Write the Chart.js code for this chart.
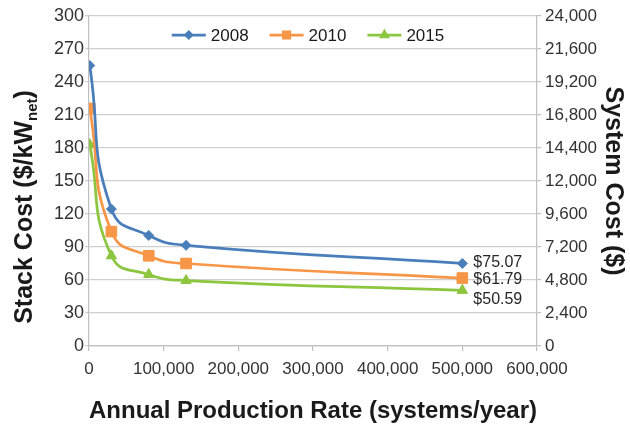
<!DOCTYPE html>
<html><head><meta charset="utf-8">
<script src="https://cdn.jsdelivr.net/npm/chart.js@4/dist/chart.umd.min.js"></script>
<style>html,body{margin:0;padding:0;background:#fff;}</style>
</head><body>
<canvas id="c" width="630" height="429"></canvas>
<script>
// ---- data ----
const productionRates = [1000, 30000, 80000, 130000, 500000];
const seriesNames = ['2008', '2010', '2015'];
const cost2008 = [255, 124.5, 100.5, 91.5, 75.07];
const cost2010 = [216, 104, 82, 75, 61.79];
const cost2015 = [183, 82, 65, 59.5, 50.59];
const stackTicks = [0, 30, 60, 90, 120, 150, 180, 210, 240, 270, 300];
const systemTicks = [0, 2400, 4800, 7200, 9600, 12000, 14400, 16800, 19200, 21600, 24000];
const rateTicks = [0, 100000, 200000, 300000, 400000, 500000, 600000];

// ---- styles ----
const seriesValues = [cost2008, cost2010, cost2015];
const colors = ['#4a7ebb', '#f79646', '#8cc63f'];
const markers = ['rectRot', 'rect', 'triangle'];
const radii = [5, 7.5, 6];
const endLabelShift = [-1, 2, 9];
const FONT = "'Liberation Sans', Arial, sans-serif";

const datasets = seriesValues.map((vals, i) => ({
  label: seriesNames[i],
  data: productionRates.map((x, j) => ({x: x, y: vals[j]})),
  borderColor: colors[i],
  backgroundColor: colors[i],
  pointBackgroundColor: colors[i],
  pointBorderColor: colors[i],
  pointStyle: markers[i],
  pointRadius: radii[i],
  pointBorderWidth: 1,
  borderWidth: 2.75,
  tension: 0.5,
  yAxisID: 'y'
}));

const endLabels = {
  id: 'endLabels',
  afterDatasetsDraw(chart) {
    const ctx = chart.ctx;
    ctx.save();
    ctx.font = '16px ' + FONT;
    ctx.fillStyle = '#262626';
    ctx.textAlign = 'left';
    ctx.textBaseline = 'middle';
    chart.data.datasets.forEach((ds, i) => {
      const meta = chart.getDatasetMeta(i);
      const last = meta.data[meta.data.length - 1];
      const v = ds.data[ds.data.length - 1].y;
      ctx.fillText('$' + v.toFixed(2), last.x + 11, last.y + endLabelShift[i]);
    });
    ctx.restore();
  }
};

const customLegend = {
  id: 'customLegend',
  afterDraw(chart) {
    const ctx = chart.ctx;
    const area = chart.chartArea;
    ctx.save();
    ctx.font = '17px ' + FONT;
    const lineLen = 34, gap = 5, itemGap = 21;
    const widths = seriesNames.map(n => ctx.measureText(n).width);
    const total = widths.reduce((a, w) => a + lineLen + gap + w, 0) + itemGap * (seriesNames.length - 1);
    let x = (area.left + area.right) / 2 - 5 - total / 2;
    const y = area.top + 19;
    seriesNames.forEach((n, i) => {
      ctx.strokeStyle = colors[i];
      ctx.lineWidth = 2.75;
      ctx.beginPath();
      ctx.moveTo(x, y);
      ctx.lineTo(x + lineLen, y);
      ctx.stroke();
      Chart.helpers.drawPoint(ctx, {pointStyle: markers[i], radius: radii[i] * 0.6, borderWidth: 1, rotation: 0}, x + lineLen / 2, y);
      ctx.fillStyle = colors[i];
      ctx.fill();
      ctx.fillStyle = '#1a1a1a';
      ctx.textAlign = 'left';
      ctx.textBaseline = 'middle';
      ctx.fillText(n, x + lineLen + gap, y + 1);
      x += lineLen + gap + widths[i] + itemGap;
    });
    ctx.restore();
  }
};

const leftTitle = {
  id: 'leftTitle',
  afterDraw(chart) {
    const ctx = chart.ctx;
    const area = chart.chartArea;
    ctx.save();
    const main = 'Stack Cost ($/kW', sub = 'net', end = ')';
    const big = 'bold 25px ' + FONT, small = 'bold 15px ' + FONT;
    ctx.font = big; const w1 = ctx.measureText(main).width; const w3 = ctx.measureText(end).width;
    ctx.font = small; const w2 = ctx.measureText(sub).width;
    const total = w1 + w2 + w3;
    ctx.translate(0, (area.top + area.bottom) / 2 + 26);
    ctx.rotate(-Math.PI / 2);
    ctx.fillStyle = '#1a1a1a';
    ctx.textAlign = 'left';
    ctx.textBaseline = 'alphabetic';
    let u = -total / 2;
    const base = 31.5;
    ctx.font = big; ctx.fillText(main, u, base); u += w1;
    ctx.font = small; ctx.fillText(sub, u, base + 5); u += w2;
    ctx.font = big; ctx.fillText(end, u, base);
    ctx.restore();
  }
};

new Chart(document.getElementById('c'), {
  type: 'line',
  data: {datasets: datasets},
  plugins: [endLabels, customLegend, leftTitle],
  options: {
    responsive: false,
    animation: false,
    devicePixelRatio: 1,
    layout: {padding: {top: 16, left: 0, right: 0, bottom: 0}},
    plugins: {legend: {display: false}, tooltip: {enabled: false}},
    scales: {
      x: {
        type: 'linear',
        min: rateTicks[0], max: rateTicks[rateTicks.length - 1],
        ticks: {stepSize: rateTicks[1] - rateTicks[0], font: {family: FONT, size: 17}, color: '#333', padding: 8},
        grid: {drawOnChartArea: false, tickLength: 5, color: '#bfbfbf', lineWidth: 1.2},
        border: {color: '#bfbfbf', width: 1.2},
        title: {display: true, text: 'Annual Production Rate (systems/year)', font: {family: FONT, size: 24, weight: 'bold'}, color: '#1a1a1a', padding: {top: 0, bottom: 3}},
        afterFit(s) { s.height = 83; }
      },
      y: {
        position: 'left',
        min: stackTicks[0], max: stackTicks[stackTicks.length - 1],
        ticks: {stepSize: stackTicks[1] - stackTicks[0], font: {family: FONT, size: 18}, color: '#333', padding: 1},
        grid: {color: '#d0d0d0', lineWidth: 1.3, tickLength: 4},
        border: {color: '#bfbfbf', width: 1.2},
        afterFit(s) { s.width = 89; }
      },
      y2: {
        position: 'right',
        min: systemTicks[0], max: systemTicks[systemTicks.length - 1],
        ticks: {stepSize: systemTicks[1] - systemTicks[0], font: {family: FONT, size: 17}, color: '#333', padding: 4},
        grid: {drawOnChartArea: false, tickLength: 4, color: '#bfbfbf', lineWidth: 1.2},
        border: {color: '#bfbfbf', width: 1.2},
        title: {display: true, text: 'System Cost ($)', font: {family: FONT, size: 25, weight: 'bold'}, color: '#1a1a1a', padding: {top: 2, bottom: 0}},
        afterFit(s) { s.width = 93; }
      }
    }
  }
});
</script>
</body></html>
